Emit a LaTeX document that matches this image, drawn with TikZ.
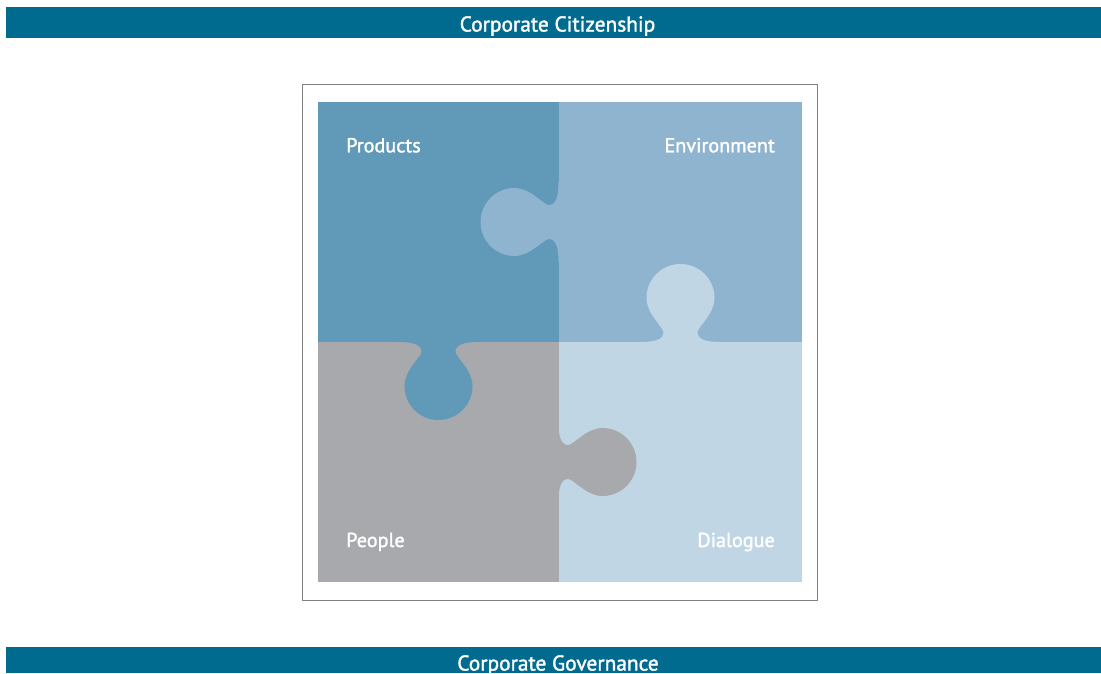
\documentclass[tikz,border=0pt]{standalone}
\usepackage{fontspec}
\setmainfont{PT Sans}
\newfontfamily\semibold[FakeBold=1.6]{PT Sans}
\definecolor{barblue}{RGB}{0,107,143}
\definecolor{prodblue}{RGB}{97,153,185}
\definecolor{envblue}{RGB}{142,180,207}
\definecolor{dialblue}{RGB}{193,214,229}
\definecolor{peoplegrey}{RGB}{168,169,172}
\definecolor{framegrey}{RGB}{128,128,128}
\newcommand{\pzltab}[4]{%
  \begin{scope}[shift={#1}, x={#2}, y={#3}]
    \fill[#4] (-40,0) .. controls (-24,0) and (-17,3) .. (-17,10)
      .. controls (-18,16) and (-34,28) .. (-34,44)
      .. controls (-34,62.8) and (-18.8,78) .. (0,78)
      .. controls (18.8,78) and (34,62.8) .. (34,44)
      .. controls (34,28) and (18,16) .. (17,10)
      .. controls (17,3) and (24,0) .. (40,0)
      -- (40,-0.6) -- (-40,-0.6) -- cycle;
  \end{scope}}
\tikzset{
  bartext/.style={text=white, font=\semibold\fontsize{21.4}{24}\selectfont, inner sep=0pt},
  pieceLabel/.style={text=white, font=\semibold\fontsize{20.2}{22}\selectfont, inner sep=0pt},
}
\begin{document}
\begin{tikzpicture}[x=1pt, y=-1pt]
  \useasboundingbox (0,0) rectangle (1101,673);
  % bars
  \fill[barblue] (5.5,7) rectangle (1101,38);
  \fill[barblue] (5.5,646.5) rectangle (1101,673);
  \node[bartext, anchor=base] (citizenship) at (557.5,31.5) {Corporate Citizenship};
  \node[bartext, anchor=base] (governance) at (558,670.5) {Corporate Governance};
  % frame
  \draw[framegrey, line width=1pt] (302,84.5) rectangle (817.5,600);
  % quadrants
  \fill[prodblue] (318,102) rectangle (558.5,342);
  \fill[envblue] (558.5,102) rectangle (802,342);
  \fill[peoplegrey] (318,342) rectangle (558.5,582);
  \fill[dialblue] (558.5,342) rectangle (802,582);
  % tabs
  \pzltab{(558.5pt,-222pt)}{(0pt,-1pt)}{(-1pt,0pt)}{envblue}
  \pzltab{(680.5pt,-342pt)}{(1pt,0pt)}{(0pt,1pt)}{dialblue}
  \pzltab{(438.5pt,-342pt)}{(1pt,0pt)}{(0pt,-1pt)}{prodblue}
  \pzltab{(558.5pt,-462pt)}{(0pt,1pt)}{(1pt,0pt)}{peoplegrey}
  % labels
  \node[pieceLabel, anchor=base west] (products) at (346,152.3) {Products};
  \node[pieceLabel, anchor=base east] (environment) at (775,152.3) {Environment};
  \node[pieceLabel, anchor=base west] (people) at (346,547) {People};
  \node[pieceLabel, anchor=base east] (dialogue) at (775,547) {Dialogue};
\end{tikzpicture}
\end{document}
